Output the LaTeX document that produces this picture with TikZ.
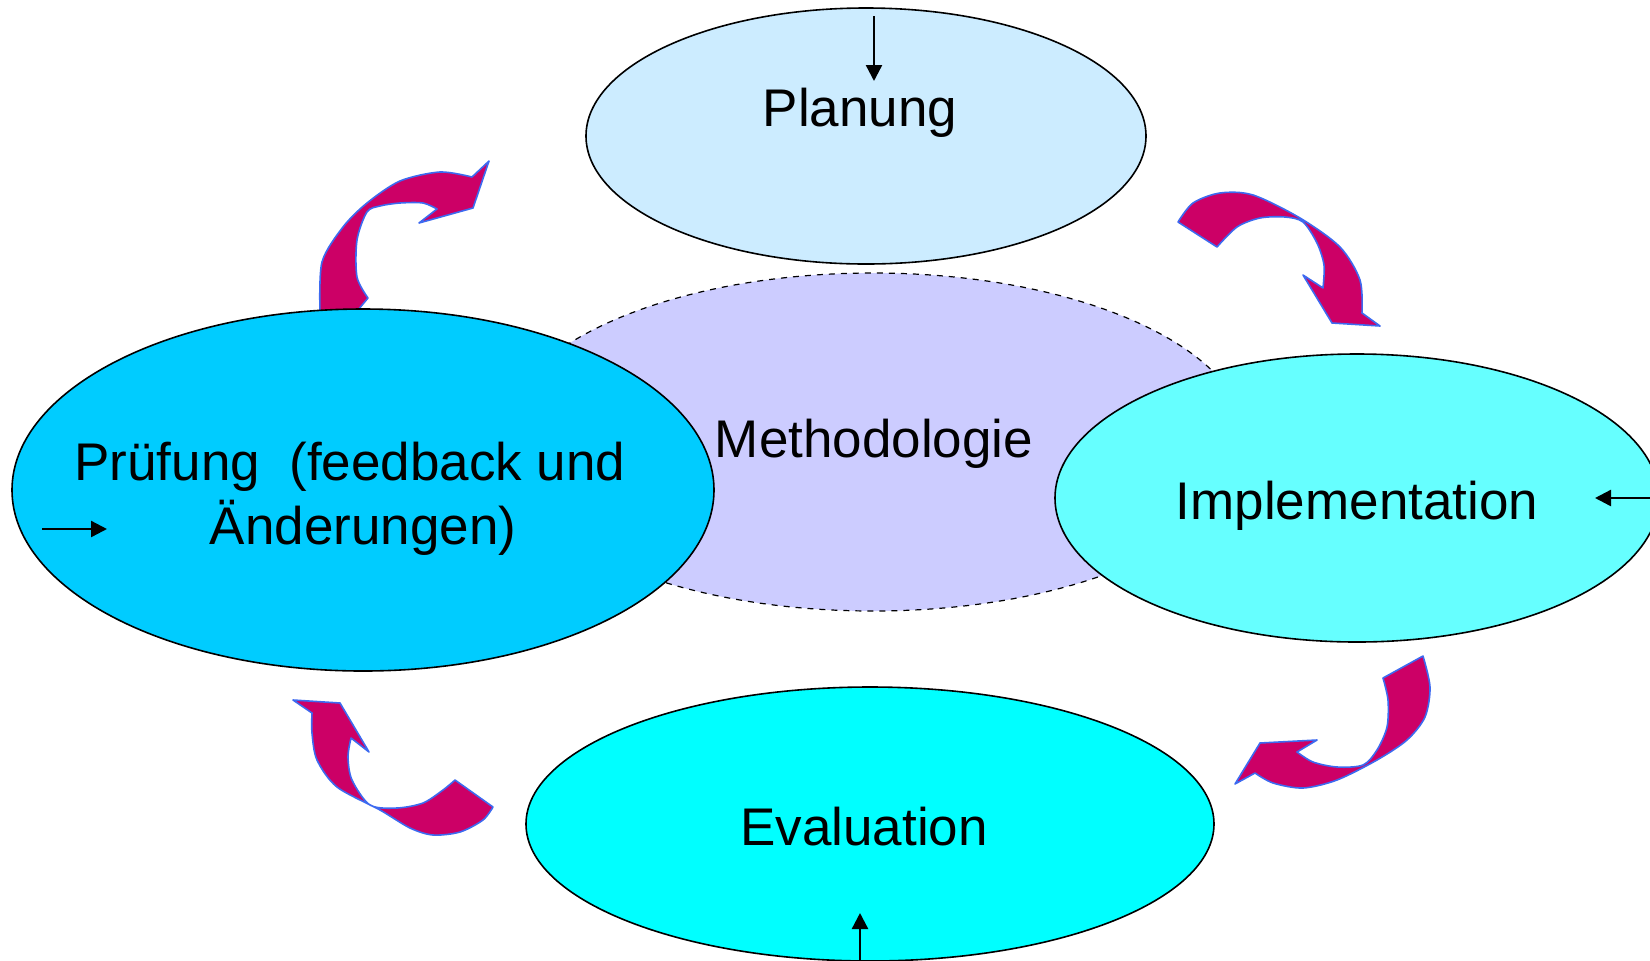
\documentclass[tikz,border=0pt]{standalone}
\usepackage{fontspec}
\setmainfont{Liberation Sans}
\usetikzlibrary{shapes.geometric,arrows.meta}
\definecolor{planc}{HTML}{CCECFF}
\definecolor{methc}{HTML}{CCCCFF}
\definecolor{pruec}{HTML}{00CCFF}
\definecolor{implc}{HTML}{66FFFF}
\definecolor{evalc}{HTML}{00FFFF}
\definecolor{arrfill}{HTML}{CC0066}
\definecolor{arrline}{HTML}{3D6AF0}
\tikzset{
  blob/.style={ellipse, draw=black, line width=0.8pt, inner sep=0pt},
  lbl/.style={anchor=base, inner sep=0pt, font=\fontsize{26.5}{32}\selectfont},
  curvy/.style={fill=arrfill, draw=arrline, line width=0.8pt, line join=round},
  smallarr/.style={draw=black, line width=1.2pt, -{Triangle[length=8pt,width=8pt]}}
}
\begin{document}
\begin{tikzpicture}[x=0.5pt,y=-0.5pt]
\useasboundingbox (0,0) rectangle (1650,960);
\clip (0,0) rectangle (1650,960);
% background ellipse
\node[blob, dashed, line width=0.6pt, fill=methc, minimum width=748pt*0.5, minimum height=338pt*0.5] (meth) at (873,442) {};
% curved arrows
\draw[curvy] plot[smooth] coordinates {(320,312) (322,262) (343,227) (367,203) (400,181) (440,172) (472,177)}
  -- (489,161) -- (473,208) -- (419,223) -- (437,209)
  -- plot[smooth] coordinates {(437,209) (423,203) (400,203) (380,206) (367,212) (357,240) (357,277) (368,298)}
  -- (358,310) -- cycle;
\draw[curvy] plot[smooth] coordinates {(1178,222) (1193,203) (1220,193) (1253,195) (1300,218) (1340,247) (1360,280) (1362,313)}
  -- (1380,326) -- (1332,323) -- (1303,275) -- (1323,288)
  -- plot[smooth] coordinates {(1323,288) (1324,265) (1317,243) (1303,222) (1285,217) (1260,218) (1237,227) (1217,247)}
  -- cycle;
\draw[curvy] plot[smooth] coordinates {(1423,656) (1430,687) (1425,717) (1407,740) (1377,760) (1337,780) (1303,788) (1273,783) (1255,773)}
  -- (1235,784) -- (1260,743) -- (1317,740) -- (1297,752)
  -- plot[smooth] coordinates {(1297,752) (1313,762) (1337,767) (1363,765) (1377,750) (1387,727) (1388,700) (1383,678)}
  -- cycle;
\draw[curvy] (293,700) -- (340,703) -- (369,752) -- (351,738)
  -- plot[smooth] coordinates {(351,738) (348,757) (352,780) (370,805) (397,808) (423,803) (443,790) (455,780)}
  -- (493,807)
  -- plot[smooth] coordinates {(493,807) (483,820) (460,832) (433,835) (410,828) (380,810) (337,787) (317,760) (312,733) (312,713)}
  -- cycle;
% ellipses
\node[blob, fill=planc, minimum width=560pt*0.5, minimum height=256pt*0.5] (plan) at (866,136) {};
\node[blob, fill=pruec, minimum width=702pt*0.5, minimum height=362pt*0.5] (pruef) at (363,490) {};
\node[blob, fill=implc, minimum width=604pt*0.5, minimum height=288pt*0.5] (impl) at (1357,498) {};
\node[blob, fill=evalc, minimum width=688pt*0.5, minimum height=274pt*0.5] (eval) at (870,824) {};
% labels
\node[lbl] (tplan) at (860,126) {Planung};
\node[lbl] (tmeth) at (874,457) {Methodologie};
\node[lbl] (tpruef1) at (350,480) {Prüfung\ \ (feedback und};
\node[lbl] (tpruef2) at (363,544) {Änderungen)};
\node[lbl] (timpl) at (1357,519) {Implementation};
\node[lbl] (teval) at (864,845) {Evaluation};
% small arrows
\coordinate (pa1) at (874,16); \coordinate (pa2) at (874,81);
\coordinate (ia1) at (1650,498); \coordinate (ia2) at (1595,498);
\coordinate (ra1) at (42,529); \coordinate (ra2) at (107,529);
\coordinate (ea1) at (860,960); \coordinate (ea2) at (860,913);
\draw[smallarr] (pa1) -- (pa2);
\draw[smallarr] (ia1) -- (ia2);
\draw[smallarr] (ra1) -- (ra2);
\draw[smallarr] (ea1) -- (ea2);
\end{tikzpicture}
\end{document}
